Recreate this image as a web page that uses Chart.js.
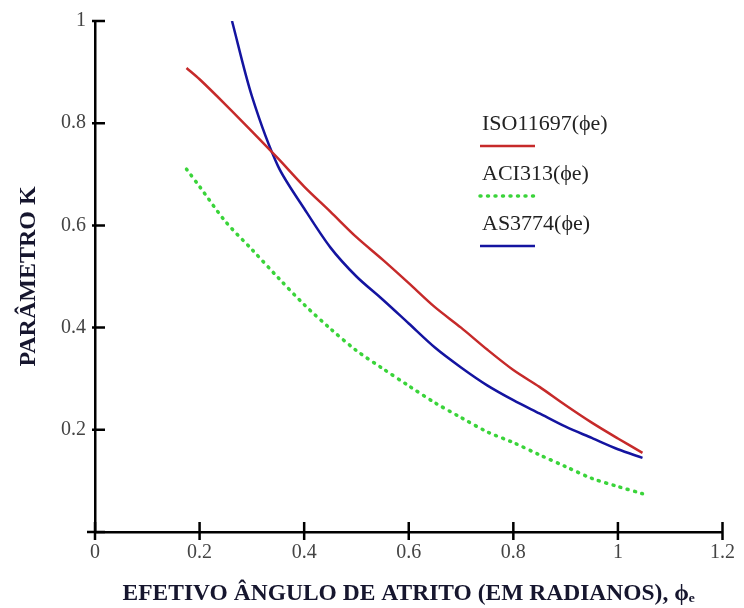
<!DOCTYPE html>
<html>
<head>
<meta charset="utf-8">
<script src="https://cdn.jsdelivr.net/npm/chart.js@4.4.0/dist/chart.umd.min.js"></script>
<style>
  html, body { margin: 0; padding: 0; background: #fff; }
</style>
</head>
<body>
<canvas id="kChart" width="744" height="608"></canvas>
<script>
// effective friction angle (rad) and K values
let angleX = [0.175, 0.2, 0.25, 0.3, 0.35, 0.4, 0.45, 0.5, 0.55, 0.6, 0.65, 0.7, 0.75, 0.8, 0.85, 0.9, 0.95, 1.0, 1.047];
let isoK = [0.908, 0.886, 0.836, 0.784, 0.731, 0.676, 0.627, 0.577, 0.533, 0.487, 0.440, 0.400, 0.357, 0.317, 0.284, 0.248, 0.214, 0.183, 0.155];
let aciK = [0.71, 0.676, 0.607, 0.553, 0.498, 0.445, 0.398, 0.355, 0.320, 0.286, 0.253, 0.224, 0.196, 0.175, 0.151, 0.128, 0.105, 0.089, 0.075];
let asX = [0.262, 0.3, 0.35, 0.4, 0.45, 0.5, 0.55, 0.6, 0.65, 0.7, 0.75, 0.8, 0.85, 0.9, 0.95, 1.0, 1.047];
let asK = [1.0, 0.853, 0.716, 0.633, 0.557, 0.500, 0.455, 0.408, 0.361, 0.322, 0.287, 0.258, 0.232, 0.206, 0.184, 0.162, 0.145];

let xTicks = [0, 0.2, 0.4, 0.6, 0.8, 1, 1.2];
let yTicks = [0, 0.2, 0.4, 0.6, 0.8, 1];

let seriesNames = ['ISO11697(ϕe)', 'ACI313(ϕe)', 'AS3774(ϕe)'];

function pts(xs, ys) {
  return xs.map((x, i) => ({ x: x, y: ys[i] }));
}

function fmt(v) {
  return String(Math.round(v * 10) / 10);
}

// tick marks crossing the axes, like the original plot
let crossTicks = {
  id: 'crossTicks',
  afterDraw(chart) {
    let ctx = chart.ctx;
    let xs = chart.scales.x, ys = chart.scales.y;
    let a = chart.chartArea;
    ctx.save();
    ctx.strokeStyle = '#000';
    ctx.lineWidth = 2.5;
    ctx.beginPath();
    yTicks.forEach(v => {
      let py = ys.getPixelForValue(v);
      let out = v === 0 ? 8 : 3;
      ctx.moveTo(a.left - out, py);
      ctx.lineTo(a.left + 10, py);
    });
    xTicks.forEach(v => {
      let px = xs.getPixelForValue(v);
      ctx.moveTo(px, a.bottom - 10);
      ctx.lineTo(px, a.bottom + 8);
    });
    ctx.stroke();
    ctx.restore();
  }
};

// legend: name on top, line sample under it
let stackLegend = {
  id: 'stackLegend',
  afterDraw(chart) {
    let ctx = chart.ctx;
    ctx.save();
    ctx.font = '22px "Liberation Serif"';
    ctx.textBaseline = 'middle';
    ctx.fillStyle = '#222';
    chart.data.datasets.forEach((ds, i) => {
      let top = 124 + i * 50;
      ctx.fillText(ds.label, 482, top);
      ctx.beginPath();
      ctx.strokeStyle = ds.borderColor;
      ctx.lineWidth = ds.borderWidth;
      ctx.setLineDash(ds.borderDash || []);
      ctx.lineCap = ds.borderCapStyle || 'butt';
      ctx.moveTo(480, top + 22);
      ctx.lineTo(535, top + 22);
      ctx.stroke();
    });
    ctx.restore();
  }
};

let kChart = new Chart(document.getElementById('kChart').getContext('2d'), {
  type: 'line',
  data: {
    datasets: [{
      label: seriesNames[0],
      data: pts(angleX, isoK),
      borderColor: '#c62a2a',
      borderWidth: 2.5,
      pointRadius: 0,
      tension: 0.3
    }, {
      label: seriesNames[1],
      data: pts(angleX, aciK),
      borderColor: '#3ad43a',
      borderWidth: 3.5,
      borderDash: [1, 6.5],
      borderCapStyle: 'round',
      pointRadius: 0,
      tension: 0.3
    }, {
      label: seriesNames[2],
      data: pts(asX, asK),
      borderColor: '#1414a0',
      borderWidth: 2.5,
      pointRadius: 0,
      tension: 0.3
    }]
  },
  options: {
    responsive: false,
    animation: false,
    layout: { padding: { top: 14, right: 18, left: 0, bottom: 0 } },
    plugins: {
      legend: { display: false },
      tooltip: { enabled: false }
    },
    scales: {
      x: {
        type: 'linear',
        min: 0,
        max: 1.2,
        afterBuildTicks: s => { s.ticks = xTicks.map(v => ({ value: v })); },
        afterFit: s => { s.height = 76; },
        grid: { display: false, drawTicks: false },
        border: { display: true, color: '#000', width: 2.5 },
        ticks: {
          padding: 9,
          color: '#444',
          font: { family: '"Liberation Serif"', size: 20 },
          callback: v => fmt(v)
        },
        title: {
          display: true,
          text: 'EFETIVO ÂNGULO DE ATRITO (EM RADIANOS), ϕₑ',
          color: '#16162e',
          font: { family: '"Liberation Serif"', size: 23.5, weight: 'bold' },
          padding: { top: 0, bottom: 0 }
        }
      },
      y: {
        type: 'linear',
        min: 0,
        max: 1,
        afterBuildTicks: s => { s.ticks = yTicks.map(v => ({ value: v })); },
        afterFit: s => { s.width = 95; },
        grid: { display: false, drawTicks: false },
        border: { display: true, color: '#000', width: 2.5 },
        ticks: {
          padding: 9,
          color: '#444',
          font: { family: '"Liberation Serif"', size: 20 },
          callback: v => (v === 0 ? '' : fmt(v))
        },
        title: {
          display: true,
          text: 'PARÂMETRO K',
          color: '#16162e',
          font: { family: '"Liberation Serif"', size: 24, weight: 'bold' },
          padding: { top: 14, bottom: 0 }
        }
      }
    }
  },
  plugins: [crossTicks, stackLegend]
});
</script>
</body>
</html>
